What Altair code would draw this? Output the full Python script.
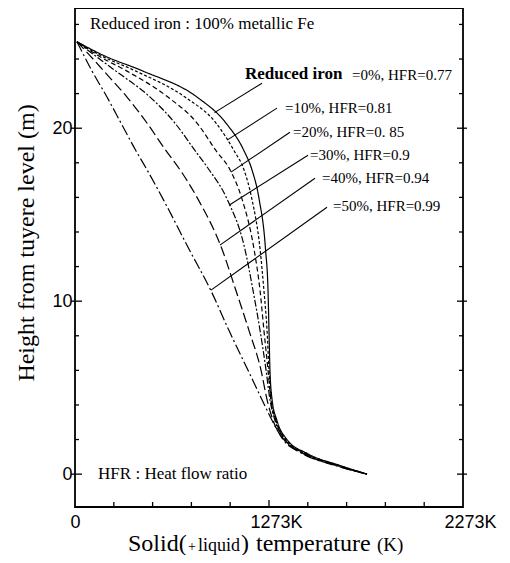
import altair as alt
import pandas as pd

SERIF = "Liberation Serif"
SANS = "Liberation Sans"

# ---- curve data (temperature in K vs height in m) ----
heights = [25.0, 24.2, 23.3, 21.8, 20.3, 18.7, 17.6, 15.9, 13.0, 10.6, 8.3, 6.0, 4.3, 3.1, 2.0, 1.2, 0.5, 0.0]
temp_0 = [283, 422, 624, 902, 1051, 1144, 1185, 1222, 1255, 1268, 1273, 1278, 1289, 1314, 1366, 1469, 1639, 1778]
temp_10 = [283, 407, 587, 840, 1000, 1093, 1144, 1185, 1227, 1247, 1263, 1273, 1283, 1309, 1360, 1464, 1634, 1778]
temp_20 = [283, 392, 541, 752, 902, 1000, 1072, 1134, 1196, 1227, 1247, 1268, 1283, 1309, 1355, 1459, 1629, 1778]
temp_30 = [283, 376, 484, 660, 788, 892, 964, 1057, 1149, 1191, 1227, 1258, 1278, 1304, 1355, 1454, 1623, 1778]
temp_40 = [283, 350, 422, 541, 644, 742, 814, 907, 1031, 1103, 1170, 1232, 1263, 1294, 1350, 1448, 1618, 1778]
temp_50 = [283, 319, 361, 438, 510, 587, 644, 727, 861, 974, 1067, 1165, 1237, 1289, 1345, 1443, 1613, 1778]
series_names = ["0%", "10%", "20%", "30%", "40%", "50%"]

# ---- annotation data ----
label_text = ["=0%, HFR=0.77", "=10%, HFR=0.81", "=20%, HFR=0. 85",
              "=30%, HFR=0.9", "=40%, HFR=0.94", "=50%, HFR=0.99"]
label_t = [1701, 1356, 1397, 1484, 1546, 1603]
label_h = [23.06, 21.16, 19.77, 18.44, 17.11, 15.49]
lead_t_text = [1237, 1314, 1381, 1474, 1510, 1572]
lead_h_text = [22.6, 21.16, 19.77, 18.44, 17.11, 15.43]
lead_t_curve = [992, 1057, 1077, 1067, 1020, 974]
lead_h_curve = [20.9, 19.31, 17.46, 15.55, 13.24, 10.64]

# ---- axis tick values ----
x_tick_labels = [273, 1273, 2273]
x_minor = [473, 673, 873, 1073, 1473, 1673, 1873, 2073]
x_major_inner = [1273]
y_major = [0, 10, 20]
y_minor = [2, 4, 6, 8, 12, 14, 16, 18, 22, 24, 26]

W, H = 388, 499

xs = alt.Scale(domain=[273, 2273], nice=False, zero=False)
ys = alt.Scale(domain=[-1.9, 26.95], nice=False, zero=False)
x_axis = alt.Axis(
    values=x_tick_labels, title=None,
    labelExpr="datum.value == 273 ? '0' : datum.value + 'K'",
    labelFlush=False, labelPadding=6,
    labelOffset=alt.condition("datum.value == 273", alt.value(0), alt.value(7)),
    labelFont=SANS, labelFontSize=18, labelColor="black",
    domain=False, ticks=False, grid=False,
)
y_axis = alt.Axis(
    values=y_major, title=None, labelPadding=3,
    labelFont=SANS, labelFontSize=18, labelColor="black",
    domain=False, ticks=False, grid=False,
)


def X(field):
    return alt.X(field, scale=xs, axis=x_axis)


def Y(field):
    return alt.Y(field, scale=ys, axis=y_axis)


rows = []
for name, temps in zip(series_names, [temp_0, temp_10, temp_20, temp_30, temp_40, temp_50]):
    for i, (t, h) in enumerate(zip(temps, heights)):
        rows.append({"series": name, "T": t, "h": h, "idx": i})
curves_df = pd.DataFrame(rows)

dashes = [[1, 0], [3, 2], [5, 3], [7, 2, 2, 2], [10, 4], [11, 3, 2, 3]]

lines = alt.Chart(curves_df).mark_line(interpolate="monotone", color="black", strokeWidth=1.2).encode(
    x=X("T:Q"),
    y=Y("h:Q"),
    strokeDash=alt.StrokeDash("series:N", scale=alt.Scale(domain=series_names, range=dashes), legend=None),
    detail="series:N",
    order=alt.Order("idx:Q"),
)

lead_df = pd.DataFrame({"t1": lead_t_text, "h1": lead_h_text, "t2": lead_t_curve, "h2": lead_h_curve})
leaders = alt.Chart(lead_df).mark_rule(color="black", strokeWidth=1.1).encode(
    x=X("t1:Q"), y=Y("h1:Q"), x2="t2:Q", y2="h2:Q",
)

lab_df = pd.DataFrame({"label": label_text, "T": label_t, "h": label_h})
labels = alt.Chart(lab_df).mark_text(font=SERIF, fontSize=15, align="left", baseline="middle", color="black").encode(
    x=X("T:Q"), y=Y("h:Q"), text="label:N")


def data_text(text, t, h, size, weight="normal"):
    df = pd.DataFrame({"label": [text], "T": [t], "h": [h]})
    return alt.Chart(df).mark_text(font=SERIF, fontSize=size, fontWeight=weight, align="left",
                                   baseline="middle", color="black").encode(
        x=X("T:Q"), y=Y("h:Q"), text="label:N")


def px_text(text, x, y, size, angle=0, align="left"):
    df = pd.DataFrame({"label": [text]})
    return alt.Chart(df).mark_text(font=SERIF, fontSize=size, angle=angle, align=align,
                                   baseline="alphabetic", color="black").encode(
        x=alt.value(x), y=alt.value(y), text="label:N")


bold_label = data_text("Reduced iron", 1149, 23.12, 17, "bold")
top_note = data_text("Reduced iron : 100% metallic Fe", 350, 26.0, 17)
hfr_note = data_text("HFR : Heat flow ratio", 392, 0.0, 17)


# ---- ticks (frame drawn by view stroke) ----
def hticks(vals, x1, x2):
    return alt.Chart(pd.DataFrame({"v": vals})).mark_rule(color="black", strokeWidth=1.3).encode(
        y=Y("v:Q"), x=alt.value(x1), x2=alt.value(x2))


def vticks(vals, y1, y2):
    return alt.Chart(pd.DataFrame({"v": vals})).mark_rule(color="black", strokeWidth=1.3).encode(
        x=X("v:Q"), y=alt.value(y1), y2=alt.value(y2))


ticks = [
    hticks(y_major, -4, 7), hticks(y_minor, 0, 4),
    hticks(y_major, W - 6, W + 4), hticks(y_minor, W - 4, W),
    vticks(x_minor, H, H - 5), vticks(x_major_inner, H, H - 7),
]

# ---- axis titles ----
y_title = px_text("Height from tuyere level (m)", -41, 235, 24, angle=270, align="center")
x_title = [
    px_text("Solid(", 53, 543, 24),
    px_text("+", 113, 543, 14),
    px_text("liquid", 123, 543, 18),
    px_text(")", 166, 543, 24),
    px_text("temperature", 181, 543, 24),
    px_text("(K)", 302, 543, 19),
]

chart = alt.layer(
    lines, leaders, labels, bold_label, top_note, hfr_note, *ticks, y_title, *x_title
).properties(
    width=W, height=H,
    padding={"left": 67, "top": 0, "right": 39, "bottom": 48},
    autosize=alt.AutoSizeParams(type="none"),
    background="white",
).configure_view(
    stroke="black", strokeWidth=1.8
)

chart.save("out.html", embed_options={"renderer": "svg", "actions": False})
